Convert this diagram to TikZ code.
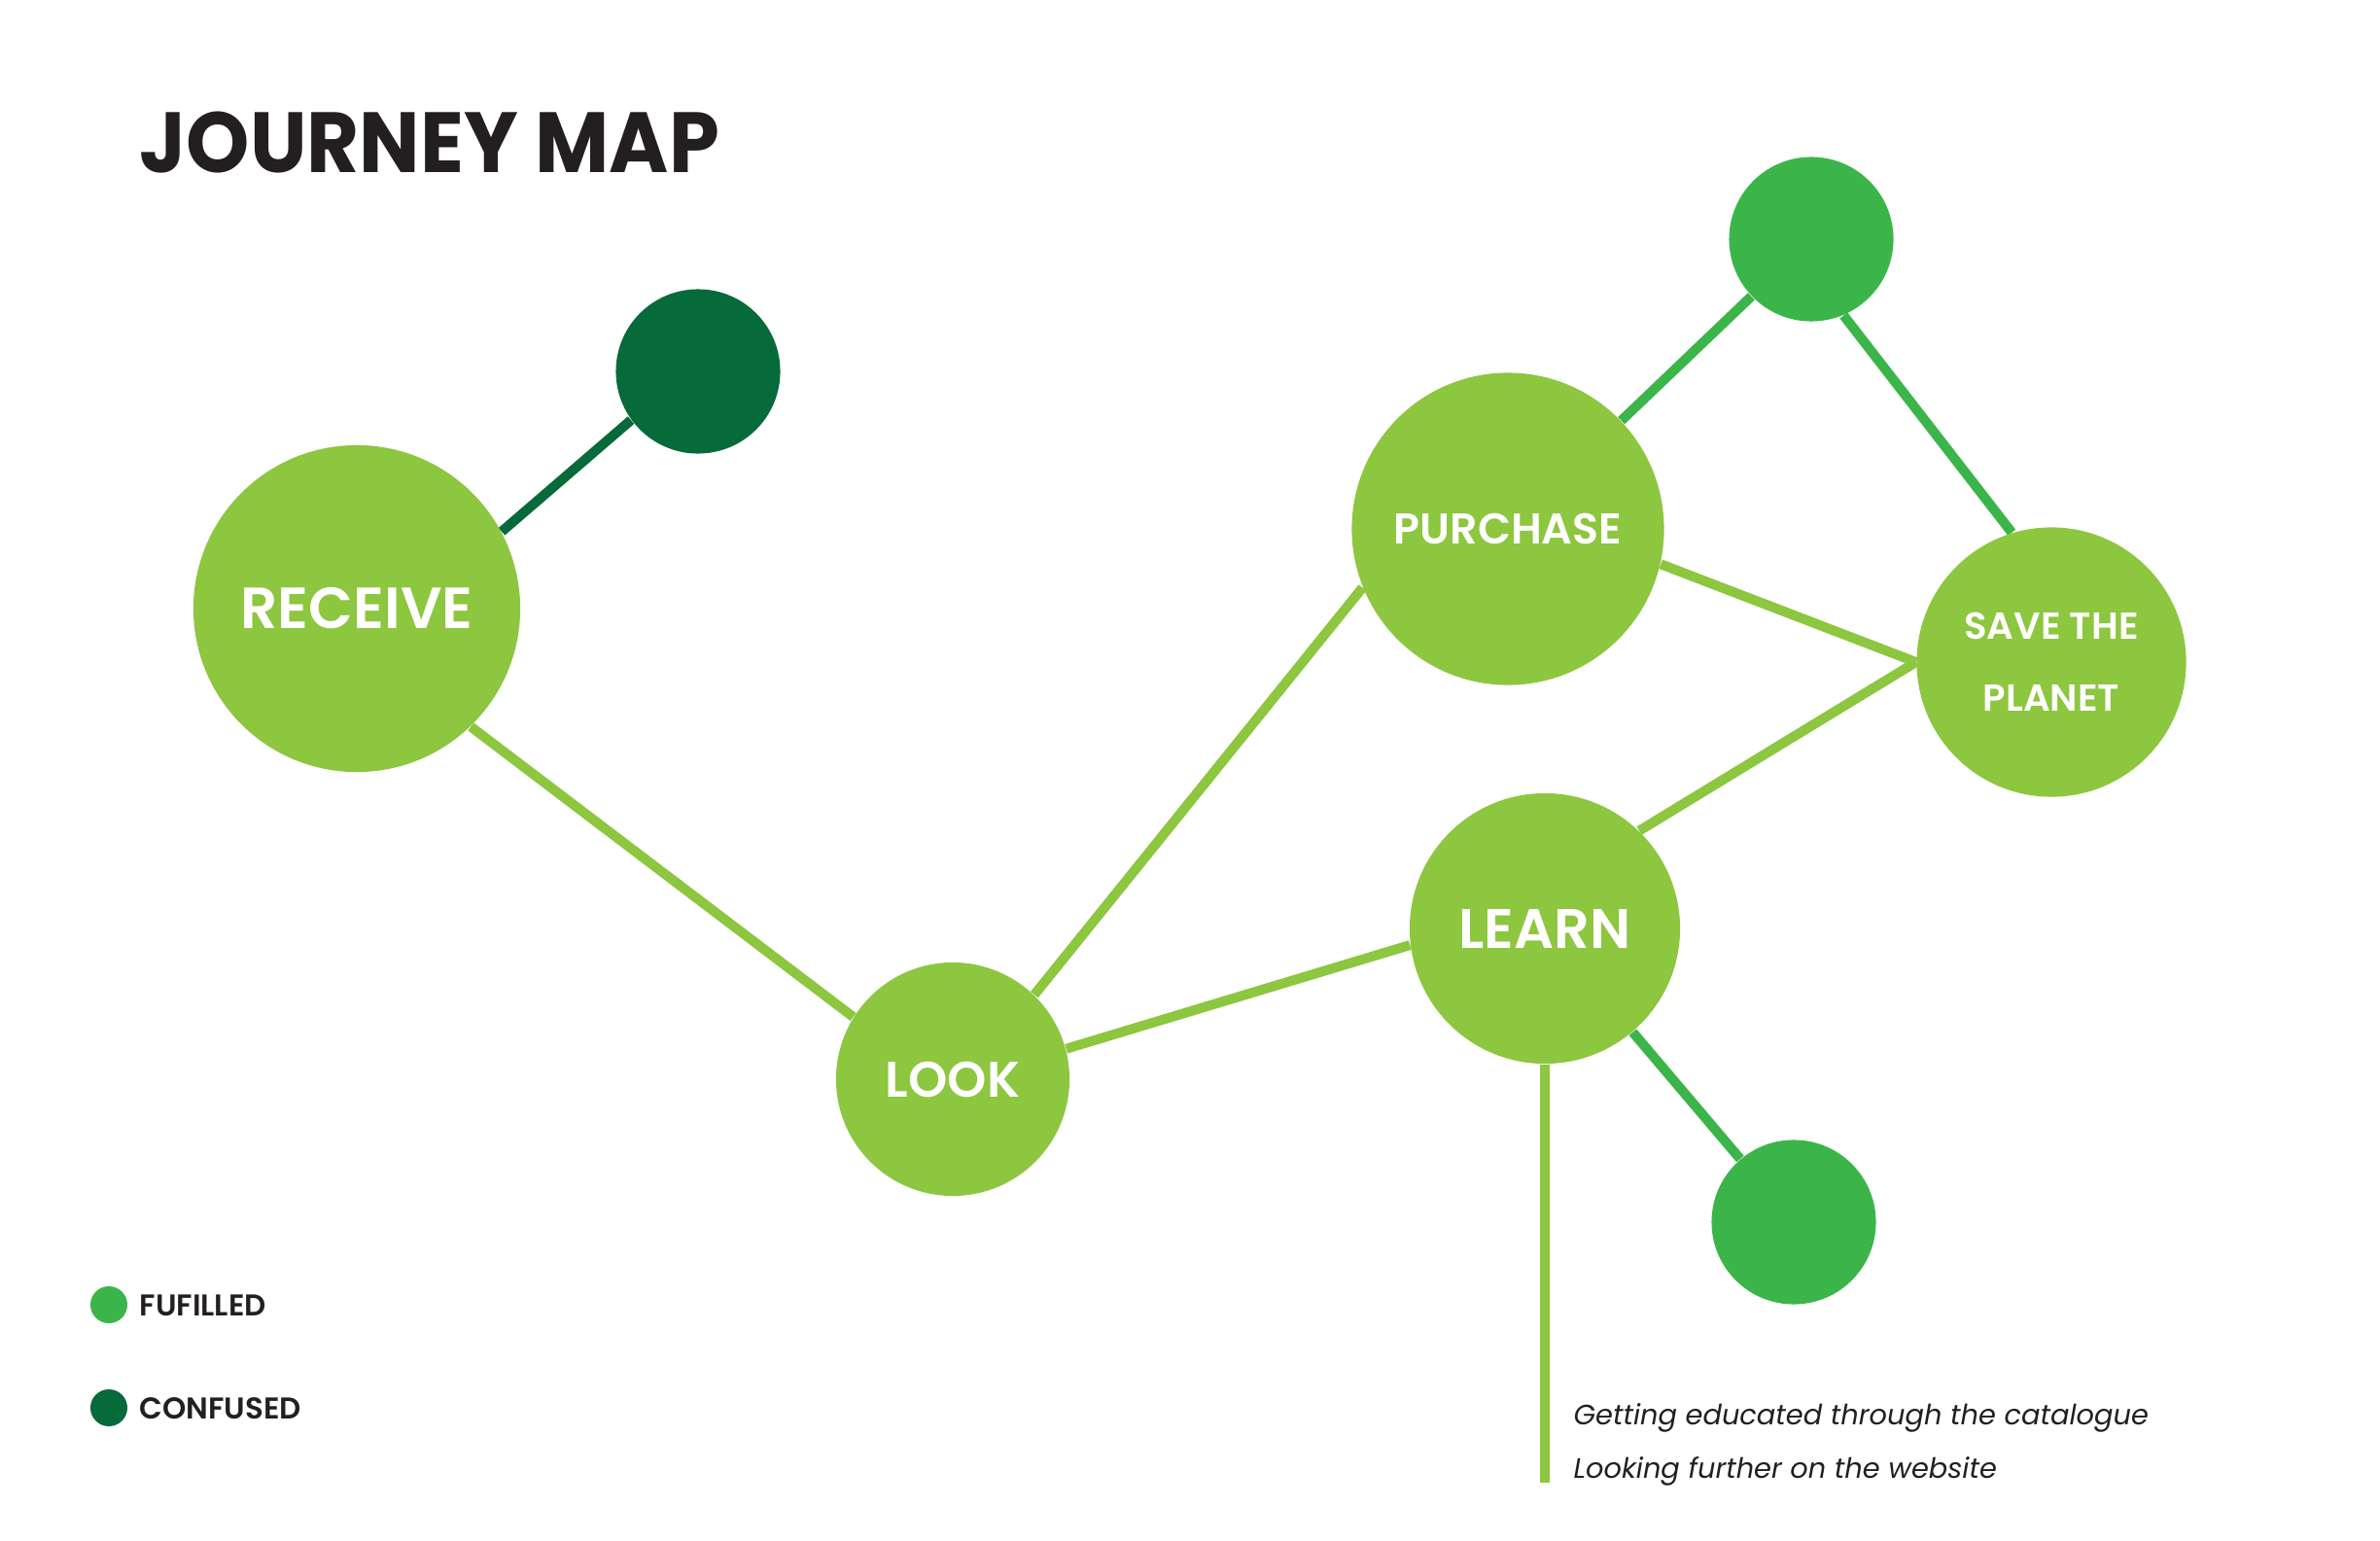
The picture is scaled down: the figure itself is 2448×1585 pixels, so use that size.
\documentclass[tikz,border=0pt]{standalone}
\usepackage{fontspec}
\setmainfont{Poppins}[BoldFont={Poppins SemiBold},BoldItalicFont={Poppins SemiBold Italic}]
\newfontfamily\headfont{Poppins}[UprightFont={* Bold}]
\usetikzlibrary{backgrounds}

\definecolor{leaf}{HTML}{8DC63F}
\definecolor{fulfil}{HTML}{3BB54A}
\definecolor{confuse}{HTML}{076A3A}
\definecolor{ink}{HTML}{231F20}

\begin{document}
\begin{tikzpicture}[x=0.01cm,y=-0.01cm,
	stage/.style={circle,fill=leaf,text=white,inner sep=0pt},
	dot/.style={circle,inner sep=0pt,minimum size=1.69cm},
	key/.style={circle,inner sep=0pt,minimum size=0.38cm},
	link/.style={line width=0.1cm},
	words/.style={anchor=base west,inner sep=0pt,text=ink}]
	\useasboundingbox (0,0) rectangle (2448,1585);
	\node[words,font=\headfont\fontsize{25}{30}\selectfont] (title) at (143,178) {\scalebox{0.945}[1]{JOURNEY MAP}};
	% stages of the journey
	\node[stage,minimum size=3.36cm,font=\bfseries\fontsize{17}{20}\selectfont] (receive) at (367,626) {RECEIVE};
	\node[stage,minimum size=2.40cm,font=\bfseries\fontsize{14.6}{18}\selectfont] (look) at (980,1110) {LOOK};
	\node[stage,minimum size=3.21cm,font=\bfseries\fontsize{12.6}{15}\selectfont] (purchase) at (1551,544) {PURCHASE};
	\node[stage,minimum size=2.78cm,font=\bfseries\fontsize{16.3}{20}\selectfont] (learn) at (1589,955) {LEARN};
	\node[stage,minimum size=2.77cm,align=center,font=\bfseries\fontsize{11}{21}\selectfont] (save) at (2110,681) {SAVE THE\\ PLANET};
	\node[dot,fill=confuse] (doubt) at (718,382) {};
	\node[dot,fill=fulfil] (buyjoy) at (1863,246) {};
	\node[dot,fill=fulfil] (learnjoy) at (1845,1257) {};
	\coordinate (tail) at (1589,1525);
	\begin{scope}[on background layer]
		\draw[link,confuse] (receive.28) -- (doubt.216);
		\draw[link,leaf] (receive.-46) -- (look.148);
		\draw[link,leaf] (look.46) -- (purchase.202);
		\draw[link,leaf] (look.15) -- (learn.187);
		\draw[link,leaf] (purchase.-13) -- (save.west);
		\draw[link,leaf] (learn.46) -- (save.west);
		\draw[link,fulfil] (purchase) -- (buyjoy);
		\draw[link,fulfil] (buyjoy.-67) -- (save.107);
		\draw[link,fulfil] (learn) -- (learnjoy);
		\draw[link,leaf] (learn) -- (tail);
	\end{scope}
	\node[words,font=\itshape\fontsize{8.2}{10}\selectfont] (note1) at (1618,1465) {Getting educated through the catalogue};
	\node[words,font=\itshape\fontsize{8.2}{10}\selectfont] (note2) at (1618,1520) {Looking further on the website};
	% legend
	\node[key,fill=fulfil] (keyjoy) at (112,1342) {};
	\node[key,fill=confuse] (keydoubt) at (112,1448) {};
	\node[words,font=\bfseries\fontsize{8.8}{10}\selectfont] (joytext) at (143,1353) {FUFILLED};
	\node[words,font=\bfseries\fontsize{8.8}{10}\selectfont] (doubttext) at (143,1459) {CONFUSED};
\end{tikzpicture}
\end{document}
